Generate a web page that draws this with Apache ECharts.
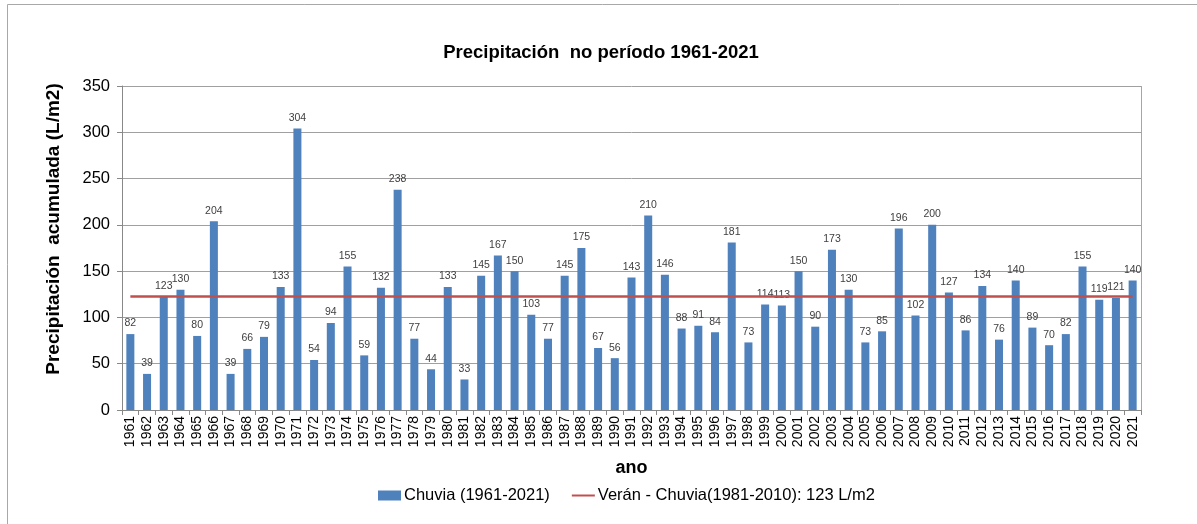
<!DOCTYPE html>
<html><head><meta charset="utf-8">
<script src="https://cdn.jsdelivr.net/npm/echarts@6/dist/echarts.min.js"></script>
<style>html,body{margin:0;padding:0;background:#fff}#c{width:1197px;height:524px}</style>
</head><body><div id="c"></div>
<script>
const years = ['1961','1962','1963','1964','1965','1966','1967','1968','1969','1970','1971','1972','1973','1974','1975','1976','1977','1978','1979','1980','1981','1982','1983','1984','1985','1986','1987','1988','1989','1990','1991','1992','1993','1994','1995','1996','1997','1998','1999','2000','2001','2002','2003','2004','2005','2006','2007','2008','2009','2010','2011','2012','2013','2014','2015','2016','2017','2018','2019','2020','2021'];
const rain = [82,39,123,130,80,204,39,66,79,133,304,54,94,155,59,132,238,77,44,133,33,145,167,150,103,77,145,175,67,56,143,210,146,88,91,84,181,73,114,113,150,90,173,130,73,85,196,102,200,127,86,134,76,140,89,70,82,155,119,121,140];
const normalValue = 123;
const yTicks = [0,50,100,150,200,250,300,350];

const chart = echarts.init(document.getElementById('c'));
const font = 'Liberation Sans, Arial, sans-serif';
chart.setOption({
  animation:false,
  textStyle:{fontFamily:font},
  title:{text:'Precipitación  no período 1961-2021',left:596,top:38,textAlign:'center',
    textStyle:{fontSize:18.5,fontWeight:'bold',color:'#000',fontFamily:font}},
  graphic:[
    {type:'polyline',shape:{points:[[7.5,524],[7.5,4.5],[1197,4.5]]},style:{fill:'none',stroke:'#a8a8a8',lineWidth:1}},
    {type:'line',shape:{x1:1141.5,y1:86,x2:1141.5,y2:410},style:{stroke:'#a6a6a6',lineWidth:1}},
    {type:'text',x:54,y:229,rotation:Math.PI/2,
     style:{text:'Precipitación  acumulada (L/m2)',fontSize:19,fontWeight:'bold',fill:'#000',
       fontFamily:font,align:'center',verticalAlign:'middle'}}
  ],
  grid:{left:122,right:56,top:86,bottom:114},
  legend:{top:482,left:373,itemGap:21,itemWidth:23,itemHeight:10,
    textStyle:{fontSize:16.5,color:'#000',fontFamily:font,padding:[0,0,0,-2]},
    data:[{name:'Chuvia (1961-2021)',icon:'rect'},
          {name:'Verán - Chuvia(1981-2010): 123 L/m2',itemStyle:{opacity:0}}]},
  xAxis:{type:'category',data:years,name:'ano',nameLocation:'middle',nameGap:49,
    nameTextStyle:{fontSize:18,fontWeight:'bold',color:'#000',fontFamily:font},
    axisLine:{lineStyle:{color:'#888'}},axisTick:{show:true,lineStyle:{color:'#888'},length:5},
    axisLabel:{rotate:90,interval:0,fontSize:14,color:'#000',margin:6,fontFamily:font}},
  yAxis:{type:'value',min:0,max:350,interval:50,
    axisLine:{show:true,lineStyle:{color:'#888'}},axisTick:{show:true,lineStyle:{color:'#888'},length:5},
    axisLabel:{fontSize:16.5,color:'#000',margin:12,fontFamily:font,
      formatter:v=>yTicks.includes(v)?String(v):''},
    splitLine:{lineStyle:{color:'#a0a0a0',width:1}}},
  series:[
    {name:'Chuvia (1961-2021)',type:'bar',data:rain,barWidth:'48%',
     itemStyle:{color:'#4f81bd'},
     label:{show:true,position:'top',fontSize:10.5,color:'#404040',distance:5,fontFamily:font}},
    {name:'Verán - Chuvia(1981-2010): 123 L/m2',type:'line',data:[],symbol:'none',
     itemStyle:{color:'#c0504d'},lineStyle:{color:'#c0504d',width:2.5},
     markLine:{symbol:'none',silent:true,label:{show:false},
       lineStyle:{color:'#c0504d',width:2.5,type:'solid'},
       data:[[{coord:[years[0],normalValue]},{coord:[years[years.length-1],normalValue]}]]}}
  ]
});
</script></body></html>
